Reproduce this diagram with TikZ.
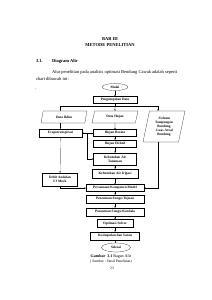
\documentclass[tikz,border=0pt]{standalone}
\usepackage{fontspec}
\setmainfont{Liberation Serif}
\usetikzlibrary{shapes.geometric,arrows.meta}

\tikzset{
  teks/.style={font=\fontsize{12.8}{14}\selectfont, inner sep=0pt},
  judul/.style={font=\bfseries\fontsize{12.8}{14}\selectfont, inner sep=0pt},
  proses/.style={draw, rectangle, align=center, inner sep=1pt,
    font=\bfseries\fontsize{9.8}{11.5}\selectfont},
  terminal/.style={draw, ellipse, inner sep=1pt,
    font=\bfseries\fontsize{9.8}{11.5}\selectfont},
  masukan/.style={draw, trapezium, trapezium stretches body, align=center,
    inner sep=1pt, font=\bfseries\fontsize{9.8}{11.5}\selectfont}
}

\begin{document}
\begin{tikzpicture}[x=1mm, y=-1mm, line width=0.5pt,
    >={Stealth[length=1.6mm,width=1.2mm]}]
    \useasboundingbox (0,0) rectangle (211,300);
    \fill[white] (0,0) rectangle (211,300);

    % Judul bab
    \node[judul] (bab) at (110,39) {BAB III};
    \node[judul] (metode) at (110,45) {METODE PENELITIAN};
    \node[judul, anchor=west] (subno) at (36,61) {3.1.};
    \node[judul, anchor=west] (subjudul) at (52,61) {Diagram Alir};
    \node[teks, anchor=west] (par1) at (52,72) {Alur penelitian pada analisis optimasi Bendung Cawak adalah seperti};
    \node[teks, anchor=west] (par2) at (36,79) {chart dibawah ini :};
    \node[teks] (titik) at (36,89) {.};

    % Bagan alir
    \node[terminal, minimum width=26mm, minimum height=7mm] (mulai) at (115,87) {Mulai};
    \node[proses, minimum width=44mm, minimum height=7mm] (kumpul) at (115,100) {Pengumpulan Data};

    \node[masukan, trapezium left angle=55, trapezium right angle=125,
        minimum width=46mm, minimum height=12mm] (iklim) at (64,117) {Data Iklim};
    \node[masukan, trapezium left angle=55, trapezium right angle=125,
        minimum width=46mm, minimum height=12mm] (hujan) at (115,117) {Data Hujan};
    \node[masukan, trapezium left angle=72, trapezium right angle=108,
        minimum width=42mm, minimum height=31mm] (volume) at (164,126.5)
        {-Volume\\Tampungan\\Bendung\\-Luas Areal\\Bendung};

    \node[proses, minimum width=43mm, minimum height=8mm] (evapo) at (60.5,133) {Evapotranspirasi};
    \node[proses, minimum width=43mm, minimum height=7mm] (rerata) at (115,133) {Hujan Rerata};
    \node[proses, minimum width=43mm, minimum height=7mm] (efektif) at (115,143.5) {Hujan Efektif};
    \node[proses, minimum width=43mm, minimum height=12mm] (tanaman) at (115,159) {Kebutuhan Air\\Tanaman};
    \node[proses, minimum width=46mm, minimum height=9mm] (irigasi) at (115,173.5) {Kebutuhan Air Irigasi};
    \node[proses, minimum width=35mm, minimum height=13mm] (debit) at (60,179.5) {Debit Andalan\\FJ Mock};
    \node[proses, minimum width=58mm, minimum height=7mm] (persamaan) at (115,188) {Persamaan Komponen Model};
    \node[proses, minimum width=58mm, minimum height=8mm] (tujuan) at (115,199) {Penentuan Fungsi Tujuan};
    \node[proses, minimum width=58mm, minimum height=8mm] (kendala) at (115,212) {Penentuan Fungsi Kendala};
    \node[proses, minimum width=36mm, minimum height=8mm] (solver) at (115,223.5) {Optimasi Solver};
    \node[proses, minimum width=49mm, minimum height=8mm] (simpul) at (115,236) {Kesimpulan dan Saran};
    \node[terminal, minimum width=29mm, minimum height=9mm] (selesai) at (116,247.5) {Selesai};

    % Titik bantu
    \coordinate (cabang) at (115,106);
    \coordinate (kanan) at (158,106);
    \coordinate (siku) at (87,133);

    % Penghubung
    \draw[->] (mulai) -- (kumpul);
    \draw (kumpul) -- (cabang);
    \draw[->] (cabang) -| (evapo |- iklim.north);
    \draw[->] (cabang) -- (hujan);
    \draw[->] (cabang) -| (kanan |- volume.north);
    \draw[->] (evapo |- iklim.south) -- (evapo);
    \draw[->] (hujan) -- (rerata);
    \draw[->] (rerata) -- (evapo);
    \draw[->] (siku) |- (tanaman);
    \draw[->] (rerata) -- (efektif);
    \draw[->] (efektif) -- (tanaman);
    \draw[->] (tanaman) -- (irigasi);
    \draw[->] (irigasi) -- (persamaan);
    \draw[->] (evapo) -- (debit);
    \draw[->] (debit) |- (persamaan);
    \draw[->] (kanan |- volume.south) |- (persamaan);
    \draw[->] (persamaan) -- (tujuan);
    \draw[->] (tujuan) -- (kendala);
    \draw[->] (kendala) -- (solver);
    \draw[->] (solver) -- (simpul);
    \draw[->] (simpul) -- (selesai);

    % Keterangan gambar
    \node[font=\fontsize{11.5}{13}\selectfont, inner sep=0pt] (gambar) at (111,256.5)
        {\textbf{Gambar\ \ 3.1} Bagan Alir};
    \node[font=\fontsize{10.5}{12}\selectfont, inner sep=0pt] (sumber) at (111,262)
        {( Sumber : Hasil Penelitian)};
    \node[font=\fontsize{10}{12}\selectfont, inner sep=0pt] (halaman) at (112,268) {23};
\end{tikzpicture}
\end{document}
